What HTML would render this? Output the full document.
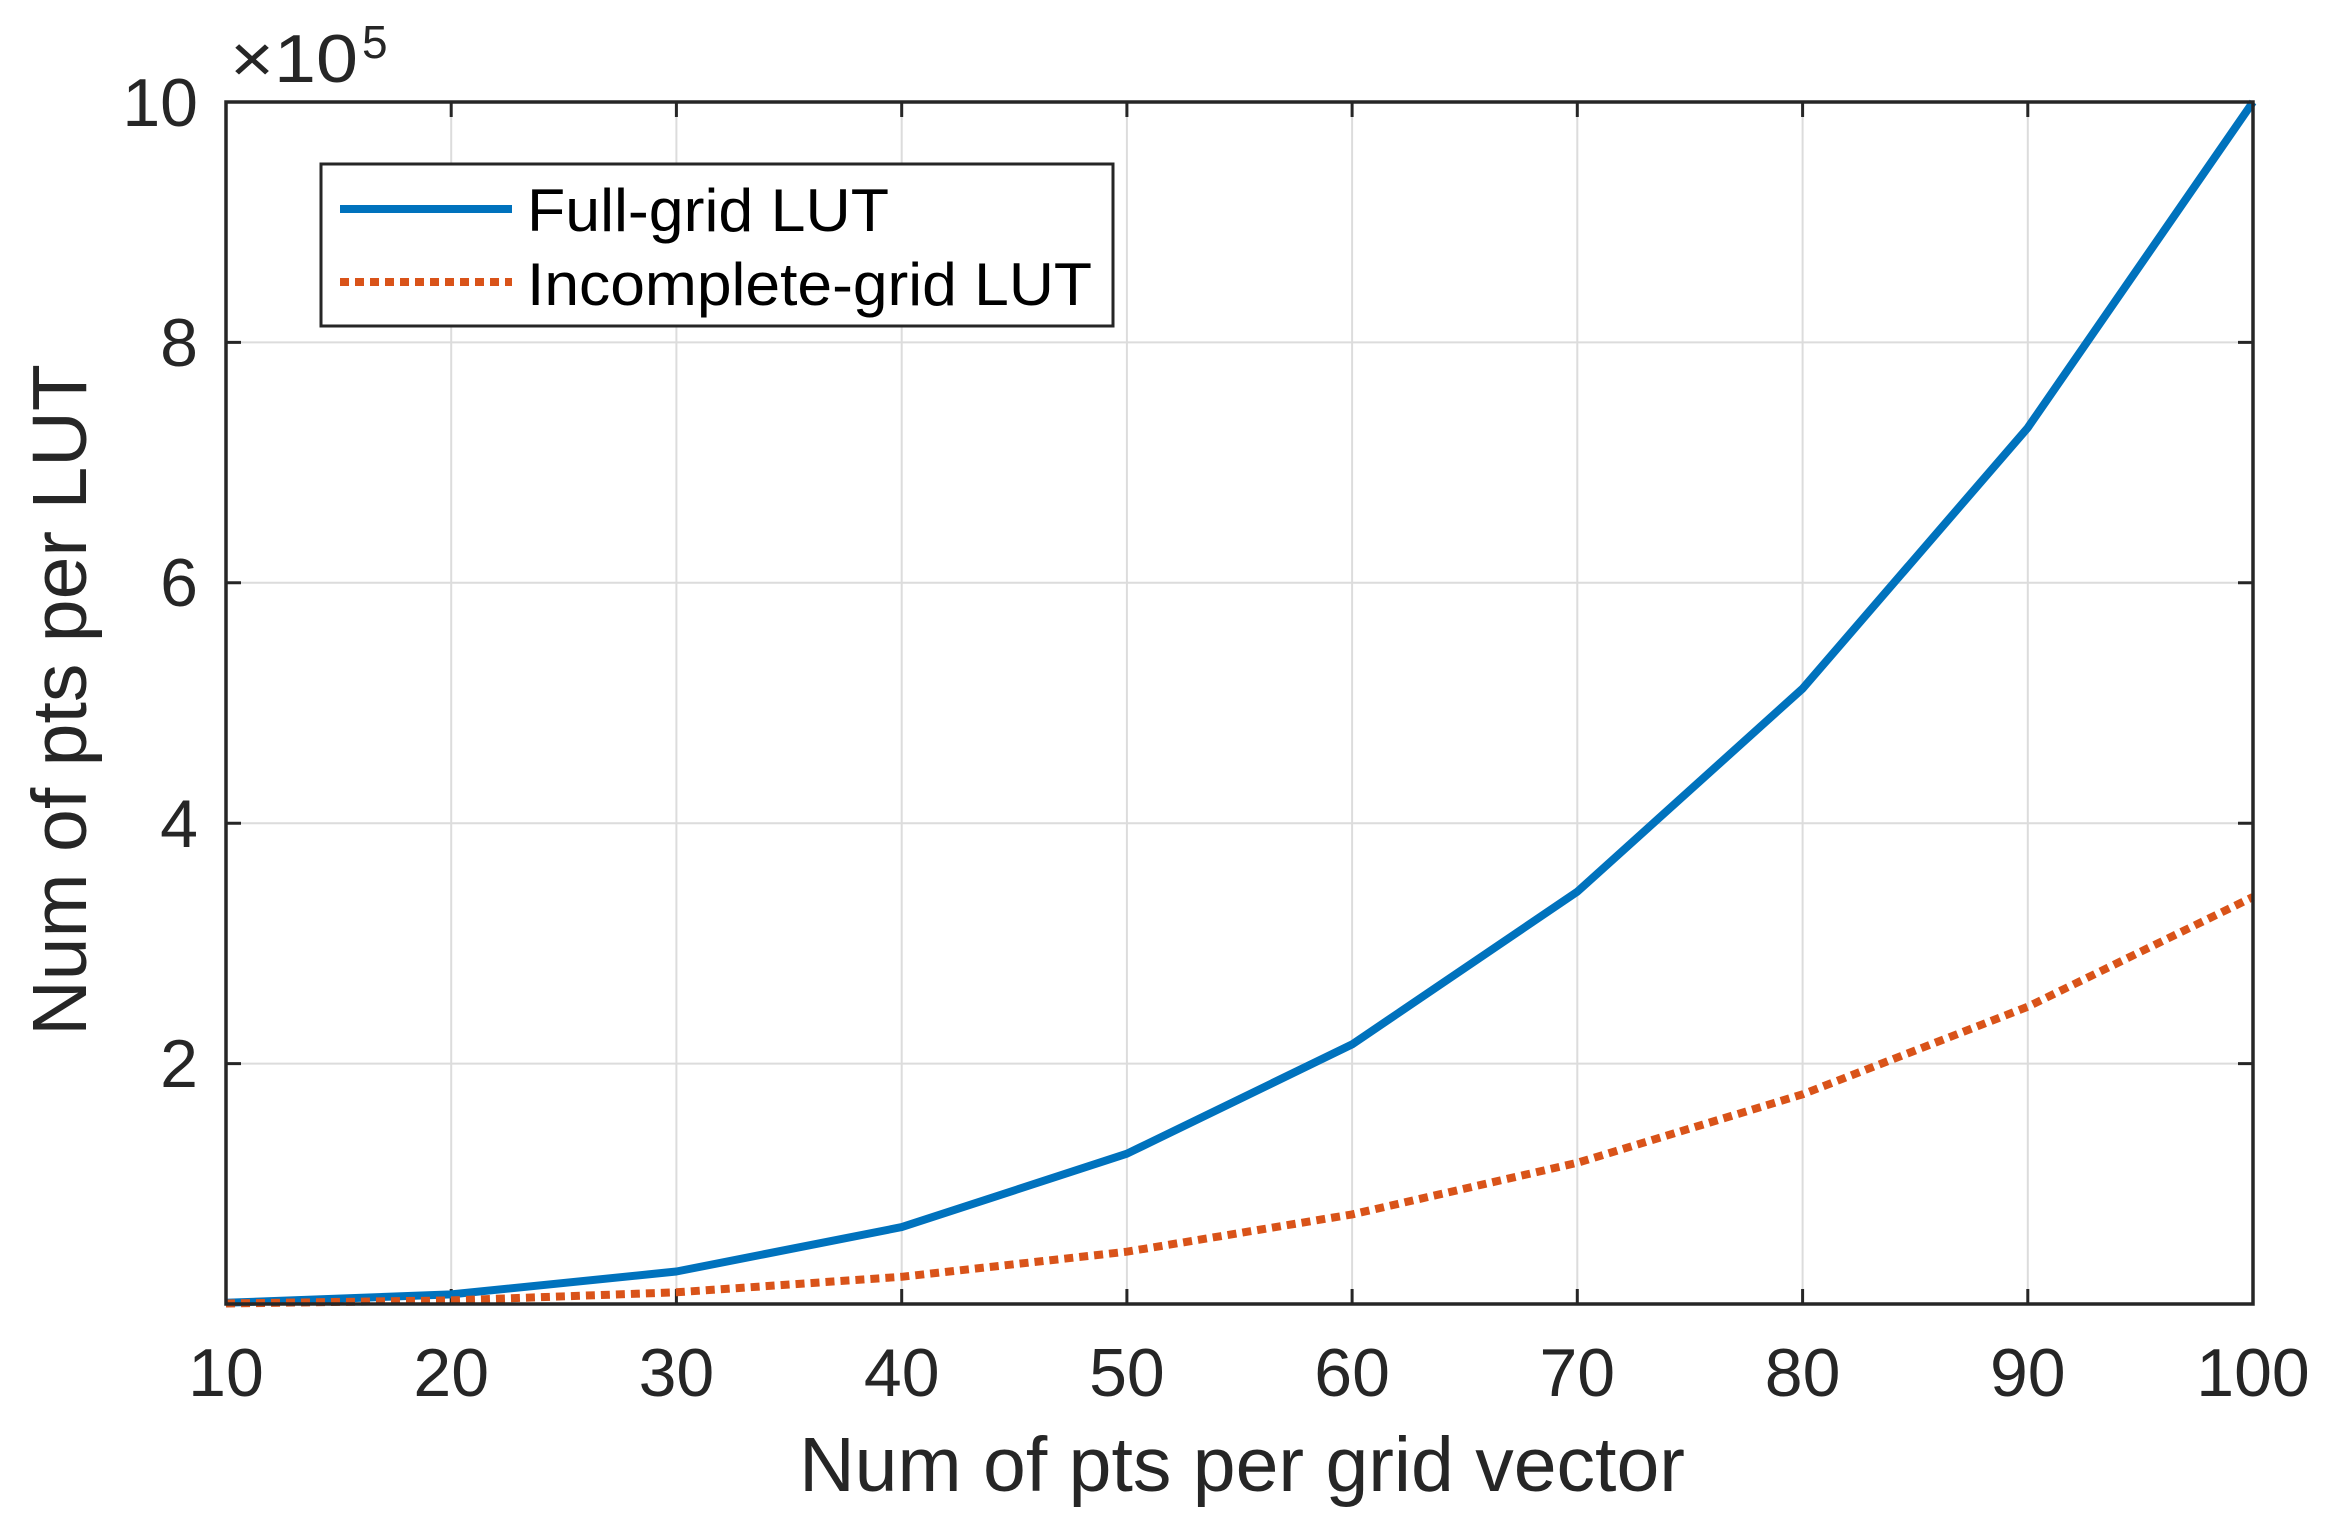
<!DOCTYPE html>
<html><head><meta charset="utf-8"><style>html,body{margin:0;padding:0;background:#fff;}svg{display:block;}</style></head>
<body>
<svg width="2326" height="1533" viewBox="0 0 2326 1533" xmlns="http://www.w3.org/2000/svg" font-family="Liberation Sans, Arial, sans-serif" fill="#262626">
<rect width="2326" height="1533" fill="#fff"/>
<g stroke="#dcdcdc" stroke-width="2">
<line x1="451.2" y1="102" x2="451.2" y2="1304"/><line x1="676.4" y1="102" x2="676.4" y2="1304"/><line x1="901.7" y1="102" x2="901.7" y2="1304"/><line x1="1126.9" y1="102" x2="1126.9" y2="1304"/><line x1="1352.1" y1="102" x2="1352.1" y2="1304"/><line x1="1577.3" y1="102" x2="1577.3" y2="1304"/><line x1="1802.6" y1="102" x2="1802.6" y2="1304"/><line x1="2027.8" y1="102" x2="2027.8" y2="1304"/>
<line x1="226" y1="1063.6" x2="2253" y2="1063.6"/><line x1="226" y1="823.2" x2="2253" y2="823.2"/><line x1="226" y1="582.8" x2="2253" y2="582.8"/><line x1="226" y1="342.4" x2="2253" y2="342.4"/>
</g>
<g stroke="#262626" stroke-width="3">
<path d="M451.2 1304v-15M676.4 1304v-15M901.7 1304v-15M1126.9 1304v-15M1352.1 1304v-15M1577.3 1304v-15M1802.6 1304v-15M2027.8 1304v-15"/>
<path d="M451.2 102v15M676.4 102v15M901.7 102v15M1126.9 102v15M1352.1 102v15M1577.3 102v15M1802.6 102v15M2027.8 102v15"/>
<path d="M226 1063.6h15M226 823.2h15M226 582.8h15M226 342.4h15M2253 1063.6h-15M2253 823.2h-15M2253 582.8h-15M2253 342.4h-15"/>
</g>
<polyline fill="none" stroke="#0072BD" stroke-width="8" stroke-linejoin="round" points="226,1302.8 451.2,1294.4 676.4,1271.5 901.7,1227.1 1126.9,1153.7 1352.1,1044.4 1577.3,891.7 1802.6,688.6 2027.8,427.7 2253,102"/>
<polyline fill="none" stroke="#D95319" stroke-width="8" stroke-dasharray="9,6" points="226,1303.5 451.2,1300.4 676.4,1292.3 901.7,1276.8 1126.9,1251.7 1352.1,1214.4 1577.3,1162.8 1802.6,1094.3 2027.8,1006.7 2253,897"/>
<rect x="226" y="102" width="2027" height="1202" fill="none" stroke="#262626" stroke-width="3.5"/>
<rect x="321" y="164" width="792" height="162" fill="#fff" stroke="#262626" stroke-width="3"/>
<line x1="340" y1="209" x2="512" y2="209" stroke="#0072BD" stroke-width="8"/>
<line x1="340" y1="282" x2="512" y2="282" stroke="#D95319" stroke-width="8" stroke-dasharray="9,6"/>
<g font-size="60" fill="#000">
<text x="527" y="231" textLength="362" lengthAdjust="spacingAndGlyphs">Full-grid LUT</text>
<text x="527" y="305" textLength="565" lengthAdjust="spacingAndGlyphs">Incomplete-grid LUT</text>
</g>
<g font-size="68" text-anchor="middle">
<text x="226" y="1396">10</text><text x="451.2" y="1396">20</text><text x="676.4" y="1396">30</text><text x="901.7" y="1396">40</text><text x="1126.9" y="1396">50</text><text x="1352.1" y="1396">60</text><text x="1577.3" y="1396">70</text><text x="1802.6" y="1396">80</text><text x="2027.8" y="1396">90</text><text x="2253" y="1396">100</text>
</g>
<g font-size="68" text-anchor="end">
<text x="198" y="1087">2</text><text x="198" y="847">4</text><text x="198" y="606">6</text><text x="198" y="366">8</text><text x="198" y="126">10</text>
</g>
<text x="230" y="82" font-size="68" textLength="128" lengthAdjust="spacingAndGlyphs">×10</text>
<text x="362" y="58" font-size="46">5</text>
<text x="1242" y="1491" font-size="77" text-anchor="middle">Num of pts per grid vector</text>
<text transform="translate(86,700) rotate(-90)" font-size="77" text-anchor="middle">Num of pts per LUT</text>
</svg>
</body></html>
